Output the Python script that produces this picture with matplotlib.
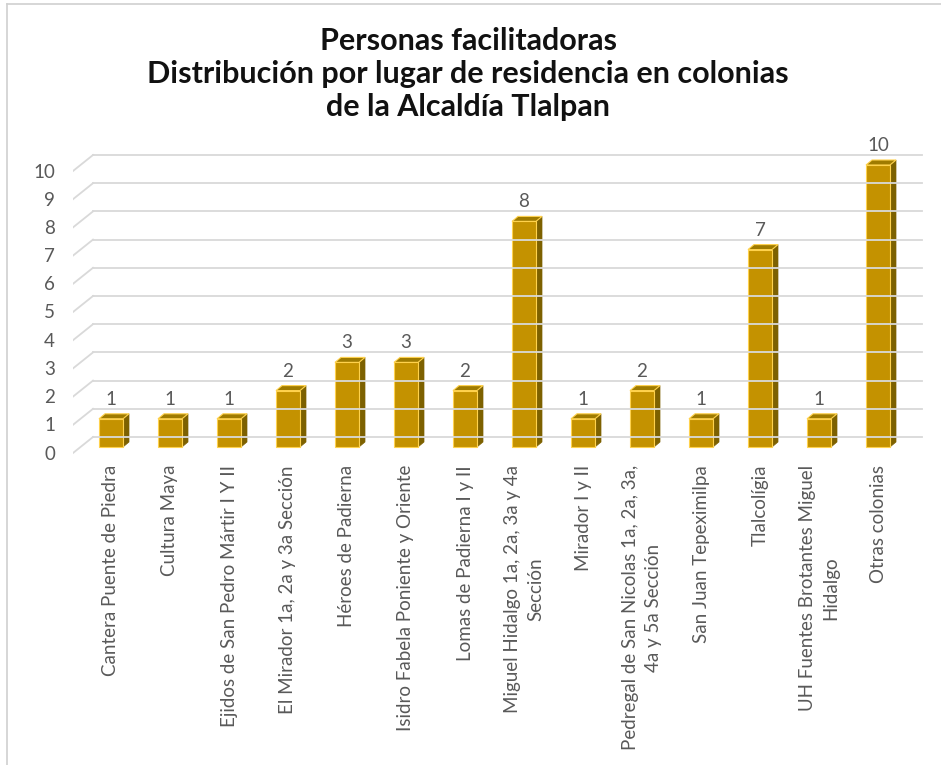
import matplotlib.pyplot as plt
from matplotlib.patches import Rectangle, Polygon
from matplotlib.lines import Line2D

colonias = [
    "Cantera Puente de Piedra",
    "Cultura Maya",
    "Ejidos de San Pedro Mártir I Y II",
    "El Mirador 1a, 2a y 3a Sección",
    "Héroes de Padierna",
    "Isidro Fabela Poniente y Oriente",
    "Lomas de Padierna I y II",
    "Miguel Hidalgo 1a, 2a, 3a y 4a\nSección",
    "Mirador I y II",
    "Pedregal de San Nicolas 1a, 2a, 3a,\n4a y 5a Sección",
    "San Juan Tepeximilpa",
    "Tlalcolígia",
    "UH Fuentes Brotantes Miguel\nHidalgo",
    "Otras colonias",
]
personas = [1, 1, 1, 2, 3, 3, 2, 8, 1, 2, 1, 7, 1, 10]
y_ticks = list(range(0, 11))

titulo = ("Personas facilitadoras\n"
          "Distribución por lugar de residencia en colonias\n"
          "de la Alcaldía Tlalpan")

plt.rcParams['font.family'] = ['Lato', 'DejaVu Sans']

W, H = 941, 765
fig = plt.figure(figsize=(W / 100, H / 100), dpi=100)

# axes placed in pixels: x -> one unit per category, y -> values
px_left, px_right = 73, 925
px_top, px_bottom = 140, 460
ax = fig.add_axes([px_left / W, (H - px_bottom) / H,
                   (px_right - px_left) / W, (px_bottom - px_top) / H])
unit_x = 59.0
unit_y = 28.2
x0 = 111.0
ax.set_xlim((px_left - x0) / unit_x, (px_right - x0) / unit_x)
ax.set_ylim(-(px_bottom - 447) / unit_y, (447 - px_top) / unit_y)
ax.axis('off')

dx = 6 / unit_x      # depth of the bars to the right
dy = 5 / unit_y      # depth of the bars upwards
wall_dy = 10 / unit_y
slant_dx = 20 / unit_x
slant_dy = 16 / unit_y
x_wall = (93 - x0) / unit_x
x_end = (922 - x0) / unit_x
x_start = (73 - x0) / unit_x

small = 13.5
grey = '#595959'
grid_c = '#d9d9d9'
for v in y_ticks:
    yb = v + wall_dy
    ax.add_line(Line2D([x_wall, x_end], [yb, yb], color=grid_c, lw=1.3))
    ax.add_line(Line2D([x_start, x_wall], [yb - slant_dy, yb], color=grid_c, lw=1.3))
    ax.text(x_start - 18 / unit_x, yb - slant_dy - 1 / unit_y, str(v),
            ha='right', va='center', fontsize=small, color=grey)

# bars with a simple 3D look: front, side and top faces
bw = 24 / unit_x
front_c = '#c49200'
side_c = '#7d6100'
top_c = '#9f7b00'
edge_c = '#ffd24d'
for i, v in enumerate(personas):
    xl = i - bw / 2
    xr = i + bw / 2
    ax.add_patch(Polygon([[xr, 0], [xr + dx, dy], [xr + dx, v + dy], [xr, v]],
                         closed=True, facecolor=side_c, edgecolor=side_c, lw=0.5))
    ax.add_patch(Polygon([[xl, v], [xr, v], [xr + dx, v + dy], [xl + dx, v + dy]],
                         closed=True, facecolor=top_c, edgecolor=edge_c, lw=0.8))
    ax.add_patch(Rectangle((xl, 0), bw, v, facecolor=front_c,
                           edgecolor=edge_c, lw=0.8))
    ax.text(i, v + dy + 6 / unit_y, str(v), ha='center', va='bottom',
            fontsize=small, color=grey)

# category labels, rotated
for i, name in enumerate(colonias):
    ax.text(i, -(465 - 447) / unit_y, name, rotation=90, ha='center', va='top',
            multialignment='center', fontsize=small, color=grey,
            linespacing=1.45, clip_on=False)

fig.text(468 / W, 1 - 27 / H, titulo, ha='center', va='top', fontsize=22,
         fontweight='bold', color='#111111', linespacing=1.22)

# light frame on the left and top
fig.add_artist(Line2D([7 / W, 7 / W], [0, 1 - 4 / H], color='#d0d0d0', lw=1.2))
fig.add_artist(Line2D([7 / W, 1], [1 - 4 / H, 1 - 4 / H], color='#d0d0d0', lw=1.2))

fig.savefig('out.png', dpi=100, facecolor='white')
